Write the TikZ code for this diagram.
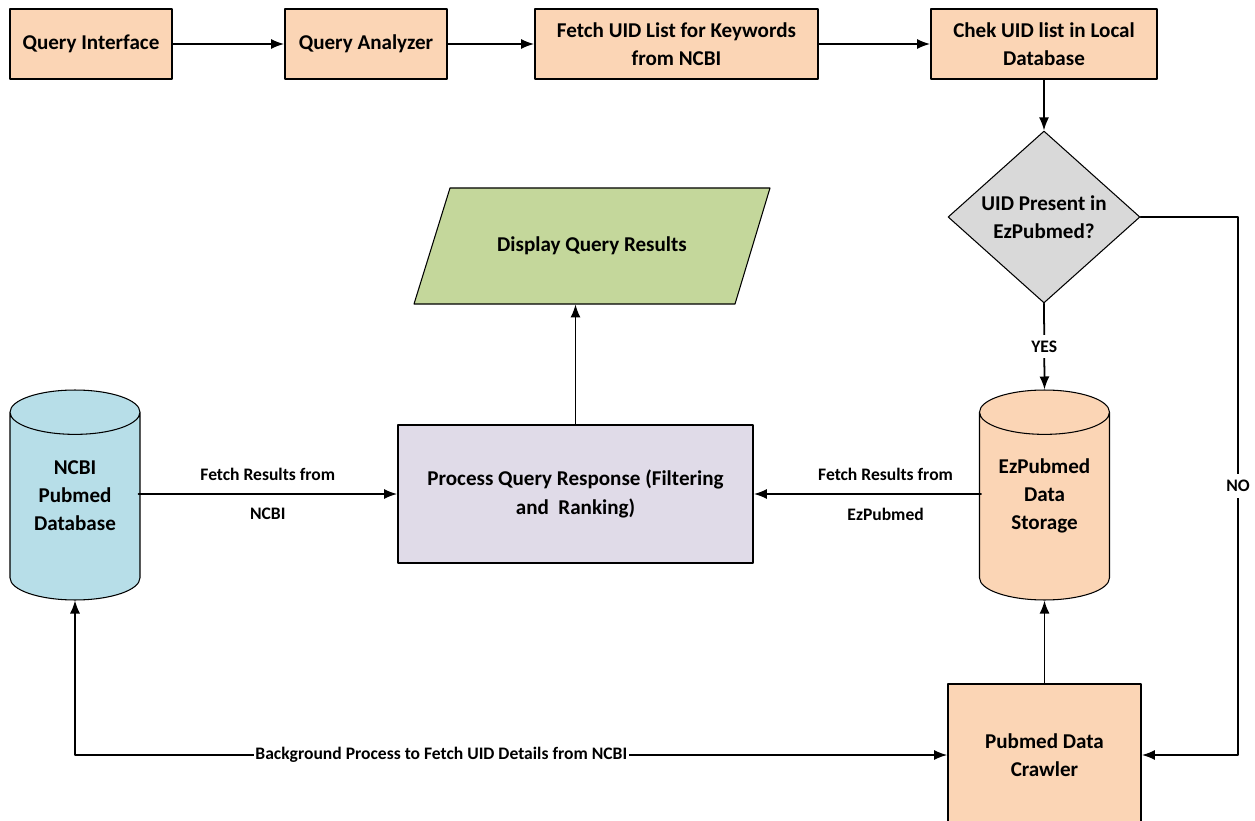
\documentclass[tikz,border=0pt]{standalone}
\usepackage{fontspec}
\setmainfont{Carlito}
\usepackage{tikz}
\usetikzlibrary{arrows.meta}
\usetikzlibrary{shapes.geometric}

\definecolor{peach}{HTML}{FBD5B5}
\definecolor{lavender}{HTML}{E0DBE8}
\definecolor{olivelight}{HTML}{C4D79B}
\definecolor{skyblue}{HTML}{B7DEE8}
\definecolor{lightgray}{HTML}{D9D9D9}

\begin{document}
\begin{tikzpicture}[line cap=round,line join=round,x=0.02cm,y=-0.02cm,
        font=\fontsize{12}{16}\selectfont\bfseries,
        stepbox/.style={draw, line width=1pt, fill=peach, align=center, minimum height=1.4cm},
        store/.style={draw, line width=0.6pt, cylinder, shape border rotate=90, aspect=0.35,
            minimum width=2.6cm, minimum height=4.2cm, anchor=shape center},
        storetext/.style={align=center, yshift=0.3cm},
        small/.style={font=\fontsize{10}{12}\selectfont\bfseries},
        flow/.style={-{Latex[length=2.6mm,width=2mm]}, line width=1pt}]
        \useasboundingbox (0,0) rectangle (1255,821);

        \node[stepbox, minimum width=3.24cm] (qi) at (91,44) {Query Interface};
        \node[stepbox, minimum width=3.24cm] (qa) at (366,44) {Query Analyzer};
        \node[stepbox, minimum width=5.66cm] (fetch) at (676.5,44) {Fetch UID List for Keywords\\from NCBI};
        \node[stepbox, minimum width=4.52cm] (check) at (1044,44) {Chek UID list in Local\\Database};

        \node[draw, diamond, fill=lightgray, line width=0.6pt, aspect=1.1, inner sep=0pt,
            minimum width=3.84cm, minimum height=3.44cm, align=center] (present) at (1044,217)
            {UID Present in\\EzPubmed?};

        % parallelogram drawn by hand, text node on top
        \filldraw[fill=olivelight, line width=0.6pt] (450,188) -- (770,188) -- (735,304) -- (414,304) -- cycle;
        \node[minimum width=6.4cm, minimum height=2.32cm] (display) at (592,246) {Display Query Results};

        \node[draw, fill=lavender, line width=1pt, minimum width=7.1cm, minimum height=2.76cm,
            align=center] (proc) at (575.5,494) {Process Query Response (Filtering\\and\ \ Ranking)};

        \node[store, fill=skyblue, label={[storetext]center:NCBI\\Pubmed\\Database}] (ncbi) at (75,495) {\hspace*{2.3cm}};
        \node[store, fill=peach, label={[storetext]center:EzPubmed\\Data\\Storage}] (ezdb) at (1044.5,495) {\hspace*{2.3cm}};

        \node[stepbox, minimum width=3.86cm, minimum height=2.84cm] (crawler) at (1044.5,755) {Pubmed Data\\Crawler};

        \coordinate (noturn) at (1238,217);

        \draw[flow] (qi) -- (qa);
        \draw[flow] (qa) -- (fetch);
        \draw[flow] (fetch) -- (check);
        \draw[flow] (check) -- (present);
        \draw[flow] (present.south) -- node[small, fill=white] {YES} (ezdb.north);
        \draw[flow] (present.east) -- (noturn) |- node[small, pos=0.25, fill=white] {NO} (crawler.east);
        \draw[flow] (crawler.north) -- (ezdb.south);
        \draw[flow] (ezdb.east |- proc.east) ++(-129,0) -- node[small, pos=0.42, above=4pt] {Fetch Results from}
            node[small, pos=0.42, below=4pt] {EzPubmed} (proc.east);
        \draw[flow] (ncbi.west |- proc.west) ++(129,0) -- node[small, above=4pt] {Fetch Results from}
            node[small, below=4pt] {NCBI} (proc.west);
        \draw[flow] (proc.north) -- (proc.north |- display.south);
        \draw[{Latex[length=2.6mm,width=2mm]}-{Latex[length=2.6mm,width=2mm]}, line width=0.8pt]
            (ncbi.south) |- node[small, pos=0.71, fill=white, inner sep=1pt]
            {Background Process to Fetch UID Details from NCBI} (crawler.west);
    \end{tikzpicture}
\end{document}
